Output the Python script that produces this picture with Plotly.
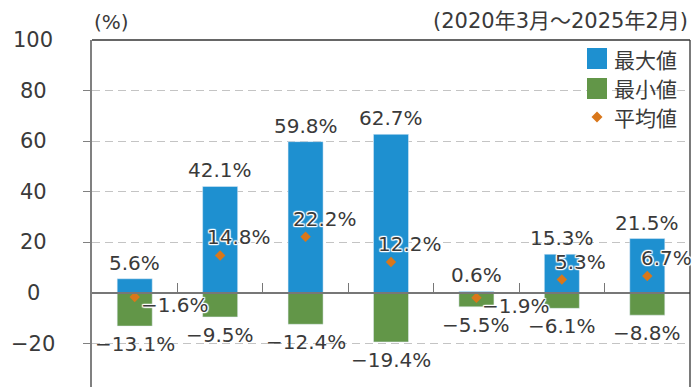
import plotly.graph_objects as go

# Return statistics per category (%)
categories = ["A", "B", "C", "D", "E", "F", "G"]
max_vals = [5.6, 42.1, 59.8, 62.7, 0.6, 15.3, 21.5]
min_vals = [-13.1, -9.5, -12.4, -19.4, -5.5, -6.1, -8.8]
avg_vals = [-1.6, 14.8, 22.2, 12.2, -1.9, 5.3, 6.7]
y_ticks = [-40, -20, 0, 20, 40, 60, 80, 100]

BLUE = "#1E90D0"
GREEN = "#629648"
ORANGE = "#D9771A"
TEXT = "#3a3a3a"
FONT = "DejaVu Sans, Noto Sans CJK JP, sans-serif"
JP_FONT = "Noto Sans CJK JP, sans-serif"

W, H = 692, 387
ML, MR, MT, MB = 92, 2, 40, 0
Y_MIN, Y_MAX = -37.2, 100


def px_x(p):
    return (p - ML) / (W - ML - MR)


def px_y(p):
    return (H - MB - p) / (H - MT - MB)


def fmt(v):
    return f"{v:.1f}%".replace("-", "\u2212")


OUTLINE = ("white 1px 1px 1px, white -1px -1px 1px, white 1px -1px 1px, "
           "white -1px 1px 1px, white 0 1px 1px, white 0 -1px 1px, "
           "white 1px 0 1px, white -1px 0 1px")

fig = go.Figure()
fig.add_bar(x=categories, y=max_vals, marker_color=BLUE, width=0.41,
            name="最大値", showlegend=False)
fig.add_bar(x=categories, y=min_vals, marker_color=GREEN, width=0.41,
            name="最小値", showlegend=False)
fig.add_scatter(x=categories, y=avg_vals, mode="markers", name="平均値",
                marker=dict(symbol="diamond", size=8, color=ORANGE),
                showlegend=False, cliponaxis=False)

ann = []
for c, v in zip(categories, max_vals):
    ann.append(dict(x=c, y=v, text=fmt(v), showarrow=False, xanchor="center",
                    yanchor="bottom", yshift=2, font=dict(family=FONT, size=20, color=TEXT)))
for c, v in zip(categories, min_vals):
    ann.append(dict(x=c, y=v, text=fmt(v), showarrow=False, xanchor="center",
                    yanchor="top", yshift=-4, font=dict(family=FONT, size=20, color=TEXT)))
for c, v in zip(categories, avg_vals):
    if v >= 0:
        pos = dict(xanchor="center", xshift=19, yanchor="middle", yshift=18)
    else:
        pos = dict(xanchor="left", xshift=4, yanchor="middle", yshift=-8)
    ann.append(dict(x=c, y=v, text=fmt(v), showarrow=False,
                    font=dict(family=FONT, size=20, color=TEXT, shadow=OUTLINE), **pos))

# y tick labels, centred in the left margin
for t in y_ticks:
    ann.append(dict(x=px_x(33), xref="paper", y=t, yref="y", text=str(t).replace("-", "\u2212"),
                    showarrow=False, xanchor="center", yanchor="middle",
                    font=dict(family=FONT, size=21, color=TEXT)))

ann.append(dict(x=0, xref="paper", y=px_y(22), yref="paper", text="(%)", showarrow=False,
                xanchor="left", yanchor="middle", font=dict(family=FONT, size=20, color=TEXT)))
ann.append(dict(x=1, xref="paper", y=px_y(21), yref="paper", text="(2020年3月～2025年2月)",
                showarrow=False, xanchor="right", yanchor="middle",
                font=dict(family=FONT, size=21, color=TEXT)))

# Legend drawn by hand
shapes = [
    dict(type="rect", xref="paper", yref="paper", x0=px_x(578), x1=px_x(677),
         y0=px_y(130), y1=px_y(44), fillcolor="white", line_width=0, layer="below"),
    dict(type="rect", xref="paper", yref="paper", x0=px_x(587), x1=px_x(607),
         y0=px_y(69), y1=px_y(48), fillcolor=BLUE, line_width=0),
    dict(type="rect", xref="paper", yref="paper", x0=px_x(587), x1=px_x(607),
         y0=px_y(99), y1=px_y(78), fillcolor=GREEN, line_width=0),
    dict(type="path", xref="paper", yref="paper", fillcolor=ORANGE, line_width=0,
         path=f"M {px_x(597)} {px_y(111.5)} L {px_x(602.5)} {px_y(117)} "
              f"L {px_x(597)} {px_y(122.5)} L {px_x(591.5)} {px_y(117)} Z"),
    # top and right frame
    dict(type="line", xref="paper", yref="paper", x0=0, x1=1, y0=1, y1=1,
         line=dict(color="#333333", width=1.3)),
    dict(type="line", xref="paper", yref="paper", x0=1, x1=1, y0=0, y1=1,
         line=dict(color="#333333", width=1.3)),
]
for label, yc in [("最大値", 59), ("最小値", 88), ("平均値", 117)]:
    ann.append(dict(x=px_x(612), xref="paper", y=px_y(yc), yref="paper", text=label,
                    showarrow=False, xanchor="left", yanchor="middle",
                    font=dict(family=JP_FONT, size=21, color=TEXT)))

fig.update_layout(
    width=W, height=H,
    margin=dict(l=ML, r=MR, t=MT, b=MB, pad=0),
    paper_bgcolor="white", plot_bgcolor="rgba(0,0,0,0)",
    barmode="overlay", showlegend=False,
    annotations=ann, shapes=shapes,
    xaxis=dict(range=[-0.5, 6.5], showticklabels=False, showgrid=False,
               zeroline=False, showline=True, linecolor="#777777", linewidth=1.5,
               ticks="inside", tickson="boundaries", ticklen=9, tickcolor="#777777",
               anchor="free", position=(0 - Y_MIN) / (Y_MAX - Y_MIN)),
    yaxis=dict(range=[Y_MIN, Y_MAX], tickvals=[-20, 20, 40, 60, 80], showticklabels=False,
               showgrid=True, gridcolor="#c4c4c4", griddash="8px,5px", gridwidth=1,
               zeroline=False, showline=True, linecolor="#808080", linewidth=1.5,
               ticks="outside", ticklen=7, tickcolor="#808080"),
)
fig.write_html("out.html")
